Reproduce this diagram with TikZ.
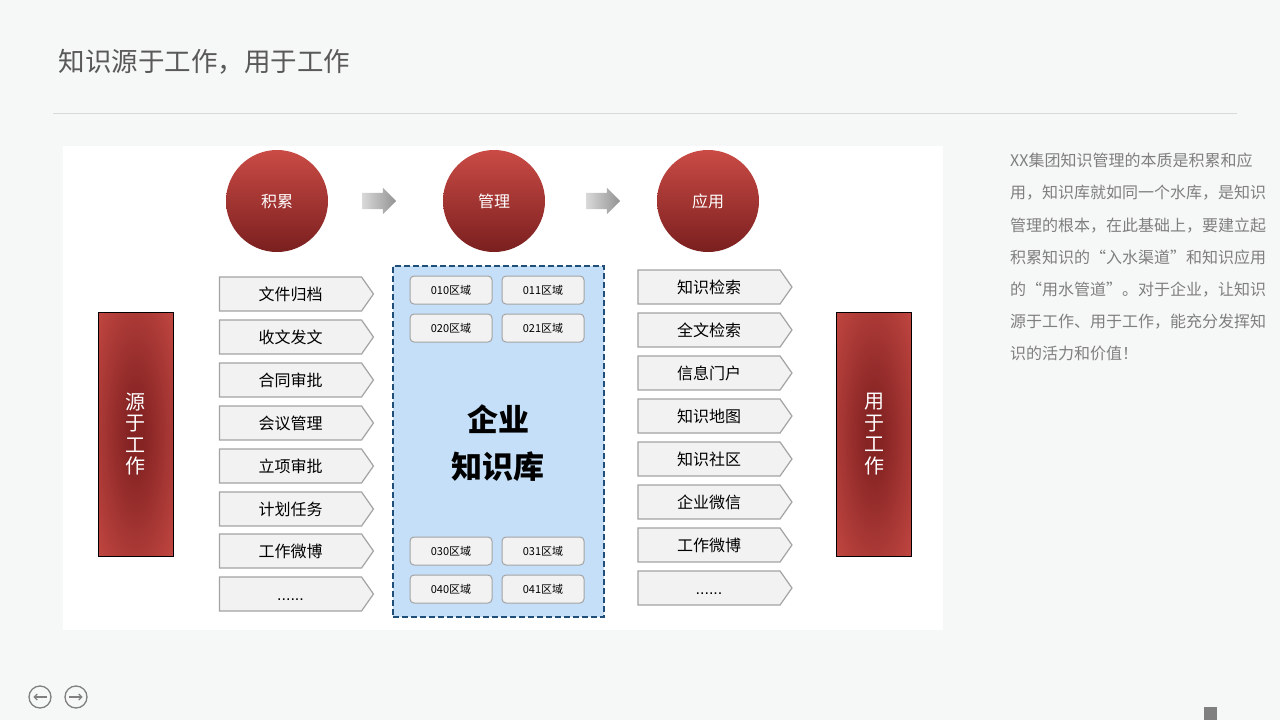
\documentclass[tikz,border=0pt]{standalone}
\usepackage{fontspec}
\setmainfont{Noto Sans CJK SC}
\newfontfamily\latinfont{Liberation Sans}
\usepackage{xcolor}
\usetikzlibrary{positioning, arrows.meta, shapes.symbols, shapes.arrows}

\definecolor{pagebg}{HTML}{F6F7F7}
\definecolor{titlegray}{HTML}{595959}
\definecolor{textgray}{HTML}{7F7F7F}
\definecolor{rulegray}{HTML}{D9D9D9}
\definecolor{redtop}{HTML}{CA4B45}
\definecolor{redbot}{HTML}{7A1F1F}
\definecolor{redin}{HTML}{862424}
\definecolor{redout}{HTML}{C64943}
\definecolor{boxfill}{HTML}{F2F2F2}
\definecolor{boxline}{HTML}{A3A3A3}
\definecolor{poolfill}{HTML}{C5DFF8}
\definecolor{poolline}{HTML}{1F4E79}

\pgfdeclareradialshading{pillarshade}{\pgfpoint{0bp}{0bp}}{%
  color(0bp)=(redin); color(6bp)=(redin);
  color(38bp)=(redout); color(50bp)=(redout)}

\begin{document}
\begin{tikzpicture}[
  x=1pt, y=-1pt,
  stage/.style={circle, minimum size=102pt, inner sep=0pt,
    top color=redtop, bottom color=redbot, text=white,
    font=\fontsize{16pt}{19pt}\selectfont},
  flow/.style={single arrow, minimum height=34pt, inner xsep=0pt,
    inner ysep=8pt, single arrow head extend=5pt,
    left color=gray!30, right color=gray!85, draw=none},
  item/.style={signal, signal to=east, signal pointer angle=110,
    draw=boxline, line width=1.2pt, fill=boxfill,
    minimum width=154pt, minimum height=34pt, inner sep=0pt,
    font=\fontsize{16pt}{19pt}\selectfont},
  region/.style={draw=boxline, line width=1pt, fill=boxfill,
    rounded corners=4pt, minimum width=82pt, minimum height=28pt,
    inner sep=0pt, font=\fontsize{11pt}{13pt}\selectfont},
  pillar/.style={draw=black, line width=1pt, minimum width=75pt,
    minimum height=244pt, shading=pillarshade,
    text=white, align=center,
    font=\fontsize{20pt}{21.5pt}\selectfont},
  navbtn/.style={circle, draw=gray, line width=1.3pt,
    minimum size=22pt, inner sep=0pt},
]

% ===== PAGE =====
\fill[pagebg] (0,0) rectangle (1280,720);
\useasboundingbox (0,0) rectangle (1280,720);

\node[anchor=west, text=titlegray, font=\fontsize{26.5pt}{30pt}\selectfont]
  (title) at (55, 62) {知识源于工作，用于工作};
\coordinate (ruleL) at (53, 113);
\coordinate (ruleR) at (1237, 113);
\draw[rulegray, line width=1pt] (ruleL) -- (ruleR);

% white panel
\fill[white] (63, 146) rectangle (943, 630);

% ===== TOP ROW: stages =====
\node[stage] (accum) at (277, 201) {积累};
\node[stage] (manage) at (494, 201) {管理};
\node[stage] (apply) at (708, 201) {应用};
\node[flow] (flow1) at (375, 201) {};
\node[flow] (flow2) at (599, 201) {};

% ===== LEFT COLUMN: sources =====
\node[pillar] (source) at (135.5, 434) {源\\于\\工\\作};

\node[item] (docarch) at (290.5, 294) {文件归档};
\node[item] (sendrecv) at (290.5, 337) {收文发文};
\node[item] (contract) at (290.5, 380) {合同审批};
\node[item] (meeting) at (290.5, 423) {会议管理};
\node[item] (project) at (290.5, 466) {立项审批};
\node[item] (plan) at (290.5, 509) {计划任务};
\node[item] (blogL) at (290.5, 551) {工作微博};
\node[item] (moreL) at (290.5, 594) {\vphantom{文}\latinfont ......};

% ===== MIDDLE: knowledge pool =====
\node[draw=poolline, dash pattern=on 6pt off 3pt, line width=2pt,
  fill=poolfill, minimum width=211pt, minimum height=351pt]
  (pool) at (498.5, 441.5) {};
\node[font=\fontsize{31pt}{47pt}\selectfont\bfseries, align=center]
  (poolname) at (498, 443) {企业\\知识库};

\node[region] (r010) at (451, 290) {010区域};
\node[region] (r011) at (543, 290) {011区域};
\node[region] (r020) at (451, 328) {020区域};
\node[region] (r021) at (543, 328) {021区域};
\node[region] (r030) at (451, 551) {030区域};
\node[region] (r031) at (543, 551) {031区域};
\node[region] (r040) at (451, 589) {040区域};
\node[region] (r041) at (543, 589) {041区域};

% ===== RIGHT COLUMN: uses =====
\node[item] (search) at (709, 287) {知识检索};
\node[item] (fulltext) at (709, 330) {全文检索};
\node[item] (portal) at (709, 373) {信息门户};
\node[item] (kmap) at (709, 416) {知识地图};
\node[item] (community) at (709, 459) {知识社区};
\node[item] (wechat) at (709, 502) {企业微信};
\node[item] (blogR) at (709, 545) {工作微博};
\node[item] (moreR) at (709, 588) {\vphantom{文}\latinfont ......};

\node[pillar] (use) at (874, 434) {用\\于\\工\\作};

% ===== SIDE TEXT =====
\node[anchor=north west, align=left, inner sep=0pt, text=textgray,
  font=\fontsize{16pt}{32.2pt}\selectfont] (note) at (1010, 153)
  {XX集团知识管理的本质是积累和应\\
   用，知识库就如同一个水库，是知识\\
   管理的根本，在此基础上，要建立起\\
   积累知识的“入水渠道”和知识应用\\
   的“用水管道”。对于企业，让知识\\
   源于工作、用于工作，能充分发挥知\\
   识的活力和价值！};

% ===== NAVIGATION =====
\node[navbtn] (prev) at (40, 697) {};
\node[navbtn] (next) at (76, 697) {};
\draw[gray, line width=1.3pt, -{Straight Barb[length=3pt]}]
  ([xshift=-5pt]prev.east) -- ([xshift=5pt]prev.west);
\draw[gray, line width=1.3pt, -{Straight Barb[length=3pt]}]
  ([xshift=5pt]next.west) -- ([xshift=-5pt]next.east);
\node[anchor=north west, fill=gray, minimum size=13pt, inner sep=0pt]
  (pagemark) at (1204, 707) {};

\end{tikzpicture}
\end{document}
